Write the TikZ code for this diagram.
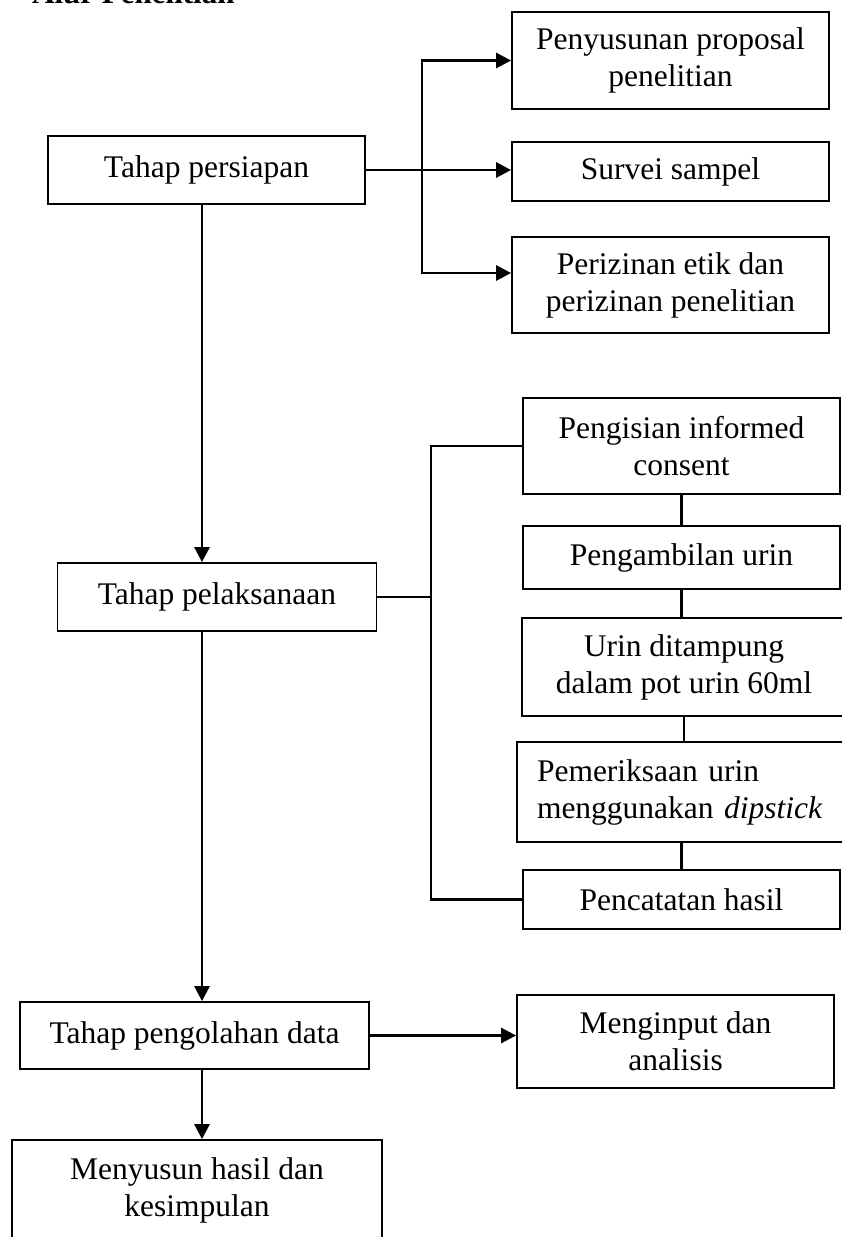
\documentclass[tikz,border=0pt]{standalone}
\usepackage{fontspec}
\setmainfont{Liberation Serif}
\usetikzlibrary{arrows.meta}
\begin{document}
\begin{tikzpicture}[x=1pt,y=-1pt,
  box/.style={draw, line width=1.8pt, inner sep=0pt, align=center,
    font=\fontsize{31.5}{37}\selectfont},
  conn/.style={line width=2.8pt},
  arr/.style={conn, -{Triangle[length=15pt,width=15pt]}}]
\useasboundingbox (0,0) rectangle (842,1237);
\node[font=\bfseries\fontsize{31}{37}\selectfont, anchor=base west, inner sep=0pt] (title) at (32,3) {Alur Penelitian};

% main column
\node[box, minimum width=317pt, minimum height=68pt] (persiapan) at (206.5,170) {Tahap persiapan};
\node[box, minimum width=319pt, minimum height=68pt] (pelaksanaan) at (217,597) {Tahap pelaksanaan};
\node[box, minimum width=349pt, minimum height=67pt] (pengolahan) at (194.5,1035.5) {Tahap pengolahan data};
\node[box, minimum width=370pt, minimum height=100pt] (menyusun) at (197,1190) {Menyusun hasil dan\\kesimpulan};

% first branch
\node[box, minimum width=317pt, minimum height=97pt] (proposal) at (670.5,60.5) {Penyusunan proposal\\penelitian};
\node[box, minimum width=317pt, minimum height=59pt] (survei) at (670.5,171.5) {Survei sampel};
\node[box, minimum width=317pt, minimum height=96pt] (izin) at (670.5,285) {Perizinan etik dan\\perizinan penelitian};

% second branch
\node[box, minimum width=317pt, minimum height=96pt] (pengisian) at (681.5,446) {Pengisian informed\\consent};
\node[box, minimum width=317pt, minimum height=63pt] (pengambilan) at (681.5,557.5) {Pengambilan urin};
\node[box, minimum width=324pt, minimum height=98pt] (urin) at (684,667) {Urin ditampung\\dalam pot urin 60ml};
\node[box, minimum width=329pt, minimum height=100pt, text width=289pt, align=left] (periksa) at (681.5,792) {Pemeriksaan urin\\menggunakan \textit{dipstick}};
\node[box, minimum width=317pt, minimum height=59pt] (catat) at (681.5,899.5) {Pencatatan hasil};

% third
\node[box, minimum width=317pt, minimum height=93pt] (input) at (675.5,1041.5) {Menginput dan\\analisis};

% spine
\coordinate (sp) at (202,0);
\draw[arr] (sp |- persiapan.south) -- (sp |- pelaksanaan.north);
\draw[arr] (sp |- pelaksanaan.south) -- (sp |- pengolahan.north);
\draw[arr] (sp |- pengolahan.south) -- (sp |- menyusun.north);

% branch 1
\coordinate (b1) at (422,0);
\coordinate (iz) at ([yshift=12pt]izin.west);
\draw[conn] (persiapan.east) -- (b1 |- persiapan.east);
\draw[conn, line cap=rect] (b1 |- proposal.west) -- (b1 |- iz);
\draw[arr] (b1 |- proposal.west) -- (proposal.west);
\draw[arr] (b1 |- persiapan.east) -- (survei.west |- persiapan.east);
\draw[arr] (b1 |- iz) -- (iz);

% branch 2
\coordinate (b2) at (431,0);
\draw[conn, line join=miter] (pengisian.west) -- (b2 |- pengisian.west) -- (b2 |- catat.west) -- (catat.west);
\draw[conn] (pelaksanaan.east) -- (b2 |- pelaksanaan.east);
\draw[conn] (pengisian.south) -- (pengambilan.north);
\draw[conn] (pengambilan.south) -- (pengambilan.south |- urin.north);
\draw[conn] (urin.south) -- (urin.south |- periksa.north);
\draw[conn] (periksa.south) -- (catat.north);

% branch 3
\draw[arr] (pengolahan.east) -- (pengolahan.east -| input.west);
\end{tikzpicture}
\end{document}
